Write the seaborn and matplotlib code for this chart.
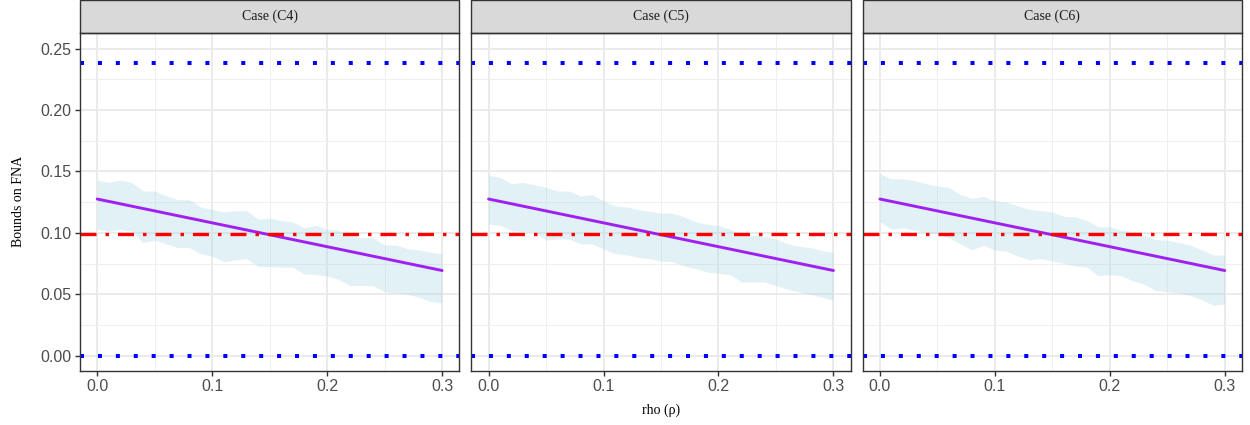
import matplotlib
matplotlib.use("Agg")
import matplotlib.pyplot as plt
from matplotlib.patches import Rectangle
from matplotlib.ticker import MultipleLocator
import pandas as pd
import seaborn as sns

# ---- data ----
cases = ["Case (C4)", "Case (C5)", "Case (C6)"]

rho = [0.00, 0.01, 0.02, 0.03, 0.04, 0.05, 0.06, 0.07, 0.08, 0.09, 0.10,
       0.11, 0.12, 0.13, 0.14, 0.15, 0.16, 0.17, 0.18, 0.19, 0.20,
       0.21, 0.22, 0.23, 0.24, 0.25, 0.26, 0.27, 0.28, 0.29, 0.30]

upper_c4 = [0.143, 0.141, 0.143, 0.141, 0.134, 0.134, 0.130, 0.127, 0.127, 0.121, 0.119,
            0.117, 0.118, 0.118, 0.111, 0.112, 0.110, 0.109, 0.104, 0.106, 0.103,
            0.102, 0.097, 0.096, 0.096, 0.090, 0.090, 0.087, 0.086, 0.084, 0.083]
lower_c4 = [0.103, 0.101, 0.103, 0.101, 0.092, 0.094, 0.091, 0.088, 0.088, 0.083, 0.081,
            0.0765, 0.078, 0.079, 0.0725, 0.0725, 0.072, 0.072, 0.0665, 0.066, 0.065,
            0.062, 0.057, 0.057, 0.057, 0.052, 0.051, 0.050, 0.0475, 0.044, 0.043]

upper_c5 = [0.147, 0.145, 0.140, 0.141, 0.139, 0.137, 0.134, 0.134, 0.130, 0.131, 0.126,
            0.122, 0.121, 0.119, 0.1175, 0.116, 0.116, 0.113, 0.109, 0.107, 0.106,
            0.103, 0.099, 0.098, 0.097, 0.095, 0.091, 0.089, 0.088, 0.0855, 0.084]
lower_c5 = [0.107, 0.106, 0.102, 0.101, 0.101, 0.094, 0.095, 0.095, 0.091, 0.091, 0.087,
            0.083, 0.082, 0.080, 0.079, 0.077, 0.0765, 0.073, 0.071, 0.068, 0.067,
            0.066, 0.060, 0.060, 0.060, 0.057, 0.054, 0.052, 0.050, 0.0475, 0.045]

upper_c6 = [0.148, 0.144, 0.144, 0.1425, 0.140, 0.138, 0.137, 0.131, 0.128, 0.1295, 0.126,
            0.125, 0.122, 0.119, 0.118, 0.117, 0.1135, 0.113, 0.110, 0.105, 0.105,
            0.102, 0.101, 0.098, 0.0945, 0.094, 0.092, 0.090, 0.086, 0.082, 0.082]
lower_c6 = [0.109, 0.103, 0.104, 0.102, 0.100, 0.099, 0.096, 0.091, 0.086, 0.090, 0.086,
            0.085, 0.081, 0.078, 0.079, 0.077, 0.075, 0.073, 0.072, 0.065, 0.066,
            0.065, 0.061, 0.058, 0.053, 0.052, 0.051, 0.049, 0.0455, 0.041, 0.042]

rho_line = [0.0, 0.3]
fna_line = [0.1275, 0.0693]

upper_bound = 0.238
lower_bound = 0.0
reference = 0.099

uppers = [upper_c4, upper_c5, upper_c6]
lowers = [lower_c4, lower_c5, lower_c6]

# ---- style ----
sns.set_theme(style="whitegrid")
plt.rcParams["font.family"] = ["Liberation Sans", "DejaVu Sans"]
plt.rcParams["lines.scale_dashes"] = False
serif = ["Liberation Serif", "DejaVu Serif"]

fig, axes = plt.subplots(1, 3, figsize=(12.5, 4.25), dpi=100, sharey=True)
fig.subplots_adjust(left=0.064, right=0.9936, bottom=0.127, top=0.922, wspace=0.0316)

for i, ax in enumerate(axes):
    ax.set_facecolor("white")
    ax.fill_between(rho, lowers[i], uppers[i], color="#ADD8E6", alpha=0.35,
                    linewidth=0, zorder=2)
    line_df = pd.DataFrame({"rho": rho_line, "fna": fna_line})
    sns.lineplot(data=line_df, x="rho", y="fna", ax=ax, color="#A020F0",
                 linewidth=2.1, zorder=4)
    for yv in (upper_bound, lower_bound):
        ax.axhline(yv, color="#0000FF", linewidth=2.9, zorder=5,
                   dashes=(2.9, 10.0), dash_capstyle="butt")
    ax.axhline(reference, color="#FF0000", linewidth=2.4, zorder=5,
               dashes=(11.5, 6.5, 2.5, 6.5), dash_capstyle="butt")

    ax.set_xlim(-0.015, 0.315)
    ax.set_ylim(-0.0125, 0.2625)
    ax.xaxis.set_major_locator(MultipleLocator(0.1))
    ax.xaxis.set_minor_locator(MultipleLocator(0.05))
    ax.yaxis.set_major_locator(MultipleLocator(0.05))
    ax.yaxis.set_minor_locator(MultipleLocator(0.025))
    ax.xaxis.set_major_formatter(lambda v, p: f"{v:.1f}")
    ax.yaxis.set_major_formatter(lambda v, p: f"{v:.2f}")
    ax.grid(which="major", color="#EBEBEB", linewidth=1.4, zorder=0)
    ax.grid(which="minor", color="#EFEFEF", linewidth=0.7, zorder=0)
    ax.set_axisbelow(True)
    ax.tick_params(which="major", length=3.5, width=1.0, color="#333333",
                   labelsize=11.5, labelcolor="#4D4D4D", pad=2.5,
                   bottom=True, left=(i == 0))
    ax.tick_params(which="minor", length=0)
    for sp in ax.spines.values():
        sp.set_visible(True)
        sp.set_color("#333333")
        sp.set_linewidth(1.0)
        sp.set_zorder(6)
    ax.set_xlabel("")
    ax.set_ylabel("")

    # facet strip
    strip_h = 33 / (0.795 * 425)
    ax.add_patch(Rectangle((0, 1), 1, strip_h, transform=ax.transAxes,
                           facecolor="#D9D9D9", edgecolor="#333333",
                           linewidth=1.0, clip_on=False, zorder=6))
    ax.text(0.5, 1 + strip_h / 2, cases[i], transform=ax.transAxes,
            ha="center", va="center", fontsize=10, color="#1A1A1A",
            family=serif, zorder=7)

fig.text(0.529, 0.035, "rho (\u03c1)", ha="center", va="center",
         fontsize=10, color="black", family=serif)
fig.text(0.015, 0.525, "Bounds on FNA", ha="center", va="center",
         rotation=90, fontsize=10, color="black", family=serif)

fig.savefig("out.png", dpi=100)
